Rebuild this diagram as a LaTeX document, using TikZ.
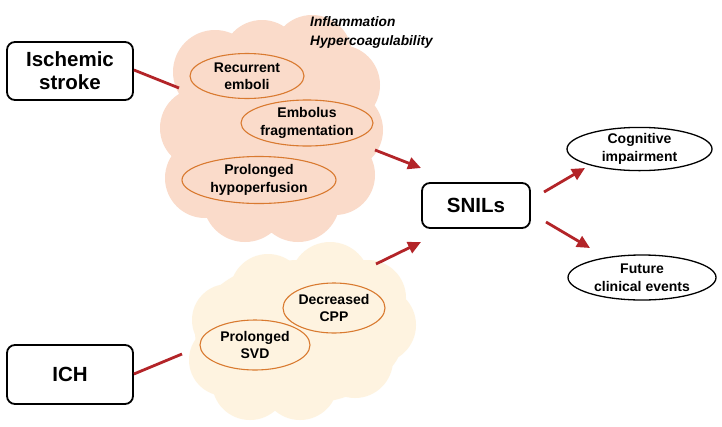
\documentclass[tikz,border=0pt]{standalone}
\usepackage{fontspec}
\setmainfont{Liberation Sans}
\usetikzlibrary{shapes.geometric,arrows.meta}
\definecolor{cloudA}{HTML}{FADBCA}
\definecolor{cloudB}{HTML}{FEF3E0}
\definecolor{ovalc}{HTML}{D97A30}
\definecolor{arrc}{HTML}{B32428}
\begin{document}
\begin{tikzpicture}[x=1pt,y=-1pt,
  bigbox/.style={draw=black,line width=1.8pt,rounded corners=8pt,fill=white,
    font=\fontsize{20.5}{23}\selectfont\bfseries,align=center,inner sep=0pt},
  oval/.style={ellipse,draw=ovalc,line width=1.1pt,inner sep=0pt,
    font=\fontsize{14}{17.5}\selectfont\bfseries,align=center},
  outc/.style={ellipse,draw=black,line width=1.3pt,inner sep=0pt,fill=white,
    font=\fontsize{14}{17.5}\selectfont\bfseries,align=center},
  redarr/.style={draw=arrc,line width=2.8pt,-{Triangle[length=13pt,width=12pt]}},
  redline/.style={draw=arrc,line width=2.8pt}]
\useasboundingbox (0,0) rectangle (722,426);
\fill[white] (0,0) rectangle (722,426);
% cloud 1
\fill[cloudA]
  (272,130) ellipse [x radius=100,y radius=100]
  (215,72) circle (42) (262,60) circle (40) (312,55) circle (40)
  (340,85) circle (40) (343,130) circle (40) (335,175) circle (40)
  (298,200) circle (42) (245,200) circle (42) (205,178) circle (40)
  (200,128) circle (40);
% cloud 2
\fill[cloudB]
  (300,332) ellipse [x radius=105,y radius=72]
  (330,282) circle (40) (368,298) circle (38) (378,325) circle (38)
  (355,360) circle (38) (300,382) circle (38) (250,382) circle (38)
  (225,360) circle (36) (228,320) circle (36) (268,292) circle (38);
% boxes
\node[bigbox,minimum width=126pt,minimum height=58pt] (isch) at (70,71) {Ischemic\\stroke};
\node[bigbox,minimum width=126pt,minimum height=59pt] (ich) at (70,374.5) {ICH};
\node[bigbox,minimum width=108pt,minimum height=45pt] (snil) at (476,205.5) {SNILs};
% ovals
\node[oval,minimum width=114pt,minimum height=45pt] (rec) at (247,76) {Recurrent\\emboli};
\node[oval,minimum width=130pt,minimum height=46pt] (emb) at (307,123) {Embolus\\fragmentation};
\node[oval,minimum width=154pt,minimum height=47pt] (pro) at (259,180) {Prolonged\\hypoperfusion};
\node[oval,minimum width=102pt,minimum height=50pt] (cpp) at (334,308) {Decreased\\CPP};
\node[oval,minimum width=110pt,minimum height=50pt] (svd) at (255,345) {Prolonged\\SVD};
% outcomes
\node[outc,minimum width=145pt,minimum height=43pt] (cog) at (639.5,149) {Cognitive\\impairment};
\node[outc,minimum width=148pt,minimum height=45pt] (fut) at (642,277.5) {Future\\clinical events};
% italic text
\node[anchor=north west,inner sep=0pt,align=left,
  font=\fontsize{13.7}{19}\selectfont\bfseries\itshape] (inf) at (310,16)
  {Inflammation\\Hypercoagulability};
% coordinates
\coordinate (c1in) at (179,88);
\coordinate (c1out) at (375,150);
\coordinate (c1tip) at (421,168);
\coordinate (c2in) at (182,354);
\coordinate (c2out) at (376,264);
\coordinate (c2tip) at (421,242);
\coordinate (s1) at (544,192);
\coordinate (s1t) at (585,168);
\coordinate (s2) at (546,222);
\coordinate (s2t) at (590,248);
% connectors
\draw[redline] (isch.east |- 0,70) -- (c1in);
\draw[redline] (ich.east |- 0,374) -- (c2in);
\draw[redarr] (c1out) -- (c1tip);
\draw[redarr] (c2out) -- (c2tip);
\draw[redarr] (s1) -- (s1t);
\draw[redarr] (s2) -- (s2t);
\end{tikzpicture}
\end{document}
